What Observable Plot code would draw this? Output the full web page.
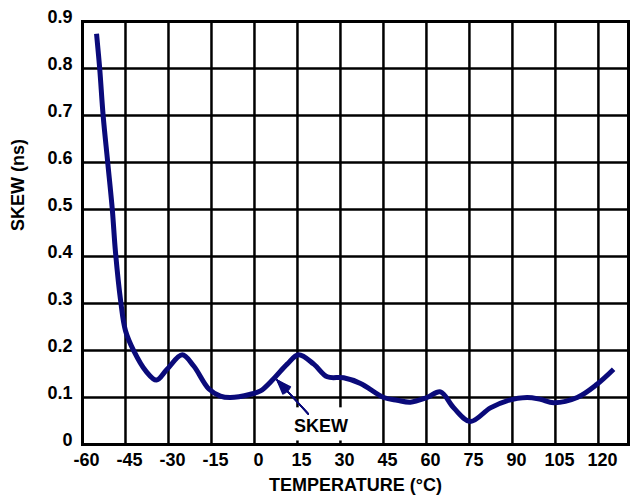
<!DOCTYPE html>
<html>
<head>
<meta charset="utf-8">
<script src="https://cdn.jsdelivr.net/npm/d3@7"></script>
<script src="https://cdn.jsdelivr.net/npm/@observablehq/plot@0.6"></script>
<style>
  html, body { margin: 0; padding: 0; background: #fff; }
  #chart svg { display: block; }
</style>
</head>
<body>
<div id="chart"></div>
<script>
// Temperature (°C) and skew (ns)
const temps = [-55.1, -54.0, -52.8, -51.2, -49.6, -48.5, -46.7, -45.0, -42.1, -38.0, -34.2, -30.5, -25.2, -21.2, -15.9, -11.9, -8.4, -1.4, 2.1, 6.7, 11.4, 15.4, 20.7, 25.4, 31.1, 37.0, 45.1, 49.8, 54.4, 60.2, 64.9, 69.5, 75.3, 82.3, 88.1, 95.1, 99.8, 104.4, 112.6, 119.5, 125.3];
const skew  = [0.874, 0.800, 0.700, 0.600, 0.500, 0.410, 0.306, 0.242, 0.199, 0.157, 0.137, 0.160, 0.191, 0.167, 0.118, 0.103, 0.100, 0.107, 0.114, 0.140, 0.171, 0.191, 0.171, 0.144, 0.142, 0.130, 0.100, 0.094, 0.090, 0.100, 0.112, 0.078, 0.049, 0.078, 0.093, 0.100, 0.096, 0.089, 0.100, 0.128, 0.160];

const xTicks = [-60, -45, -30, -15, 0, 15, 30, 45, 60, 75, 90, 105, 120];
const yTicks = [0, 0.1, 0.2, 0.3, 0.4, 0.5, 0.6, 0.7, 0.8, 0.9];
const xGrid = [-45, -30, -15, 0, 15, 30, 45, 60, 75, 90, 105, 120];
const yGrid = [0.1, 0.2, 0.3, 0.4, 0.5, 0.6, 0.7, 0.8];

const xTitle = "TEMPERATURE (°C)";
const yTitle = "SKEW (ns)";
const annotLabel = "SKEW";
// annotation: arrow tail / tip and label, in data units
const arrowTail = [{x: 18.8, y: 0.065}];
const arrowTip  = [{x: 7.9, y: 0.137}];
const labelPos  = [{x: 23.2, y: 0.038}];
const labelBox  = [{x1: 12.2, x2: 34.2, y1: 0.0075, y2: 0.078}];

const data = temps.map((t, i) => ({t, s: skew[i]}));
const arrowData = [{x1: arrowTail[0].x, y1: arrowTail[0].y, x2: arrowTip[0].x, y2: arrowTip[0].y}];

const lineColor = "#0a0a7a";
const font = "'Liberation Sans', Arial, Helvetica, sans-serif";

const arrowFan = [0, 8, 16, 24, 32, 40].map(a =>
  Plot.arrow(arrowData, {x1: "x1", y1: "y1", x2: "x2", y2: "y2", stroke: lineColor, strokeWidth: 1.5, headAngle: a, headLength: 15})
);

const chart = Plot.plot({
  width: 635,
  height: 500,
  marginLeft: 82,
  marginRight: 7,
  marginTop: 21,
  marginBottom: 56,
  style: {fontFamily: font, fontWeight: "bold", fontSize: "18px", background: "#fff", color: "#000"},
  x: {domain: [-60, 130.5]},
  y: {domain: [0, 0.9]},
  marks: [
    Plot.ruleX(xGrid, {stroke: "#000", strokeWidth: 2.5}),
    Plot.ruleY(yGrid, {stroke: "#000", strokeWidth: 2.5}),
    Plot.rect(labelBox, {x1: "x1", x2: "x2", y1: "y1", y2: "y2", fill: "#fff"}),
    Plot.line(data, {x: "t", y: "s", stroke: lineColor, strokeWidth: 5, curve: "catmull-rom", strokeLinecap: "butt"}),
    ...arrowFan,
    Plot.text(labelPos, {x: "x", y: "y", text: () => annotLabel, fontSize: 18, fontWeight: "bold", fill: "#000"}),
    Plot.frame({stroke: "#000", strokeWidth: 3}),
    Plot.axisX(xTicks, {tickSize: 0, tickPadding: 9, dx: 4, tickFormat: d => String(d), fontSize: 18, fontWeight: "bold", label: null}),
    Plot.axisY(yTicks, {tickSize: 0, tickPadding: 10, dy: -4, tickFormat: d => String(d), fontSize: 18, fontWeight: "bold", label: null}),
    Plot.text([xTitle], {frameAnchor: "bottom", text: d => d, dy: 46, fontSize: 18, fontWeight: "bold"}),
    Plot.text([yTitle], {frameAnchor: "left", text: d => d, rotate: -90, dx: -64.5, dy: -2, fontSize: 18, fontWeight: "bold"})
  ]
});

document.getElementById("chart").appendChild(chart);
</script>
</body>
</html>
